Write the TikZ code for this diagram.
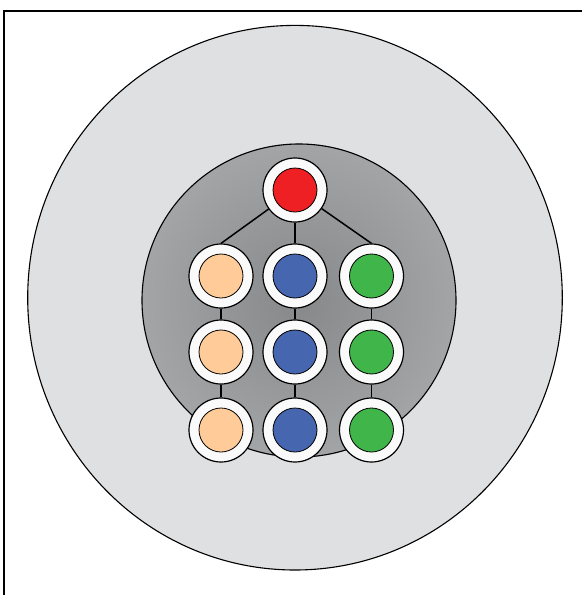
\documentclass[tikz,border=0pt]{standalone}
\usetikzlibrary{shadings}
\definecolor{outerfill}{HTML}{DFE0E2}
\definecolor{shadein}{HTML}{86888A}
\definecolor{shadeout}{HTML}{C0C1C3}
\definecolor{ringfill}{HTML}{FAFAFA}
\definecolor{cred}{HTML}{EE2024}
\definecolor{corange}{HTML}{FECB99}
\definecolor{cblue}{HTML}{4766B0}
\definecolor{cgreen}{HTML}{3FB54A}
\pgfdeclareradialshading{innerglow}{\pgfpoint{0bp}{0bp}}{color(0bp)=(shadein); color(50bp)=(shadeout)}
\tikzset{
  ring/.style={circle, draw=black, line width=1.2pt, fill=ringfill, minimum size=64pt, inner sep=0pt},
  core/.style={circle, draw=black, line width=0.8pt, minimum size=44pt, inner sep=0pt},
  link/.style={draw=black, line width=1.5pt},
  frame/.style={draw=black, line width=2pt}
}
\begin{document}
\begin{tikzpicture}[x=1pt,y=-1pt]
\useasboundingbox (0,0) rectangle (582,595);
\draw[frame] (4,595) -- (4,11) -- (582,11);
% outer disc
\draw[fill=outerfill, line width=1.1pt] (295,297.7) ellipse [x radius=267.3, y radius=272.3];
% inner shaded disc
\shade[shading=innerglow] (299,300.5) circle [radius=157];
\draw[line width=1.1pt] (299,300.5) ellipse [x radius=157, y radius=156.5];
% nodes
\node[ring] (r) at (295,190) {};
\node[core, fill=cred] (rc) at (r) {};
\foreach \n/\x/\c in {a/221/corange, b/295/cblue, c/371.5/cgreen}{
  \node[ring] (\n1) at (\x,276) {};
  \node[core, fill=\c] (\n1c) at (\n1) {};
  \node[ring] (\n2) at (\x,352) {};
  \node[core, fill=\c] (\n2c) at (\n2) {};
  \node[ring] (\n3) at (\x,430) {};
  \node[core, fill=\c] (\n3c) at (\n3) {};
}
% connectors
\foreach \n in {a,b,c}{
  \path[link] (r) -- (\n1.north);
  \path[link] (\n1) -- (\n2);
  \path[link] (\n2) -- (\n3);
}
\end{tikzpicture}
\end{document}
